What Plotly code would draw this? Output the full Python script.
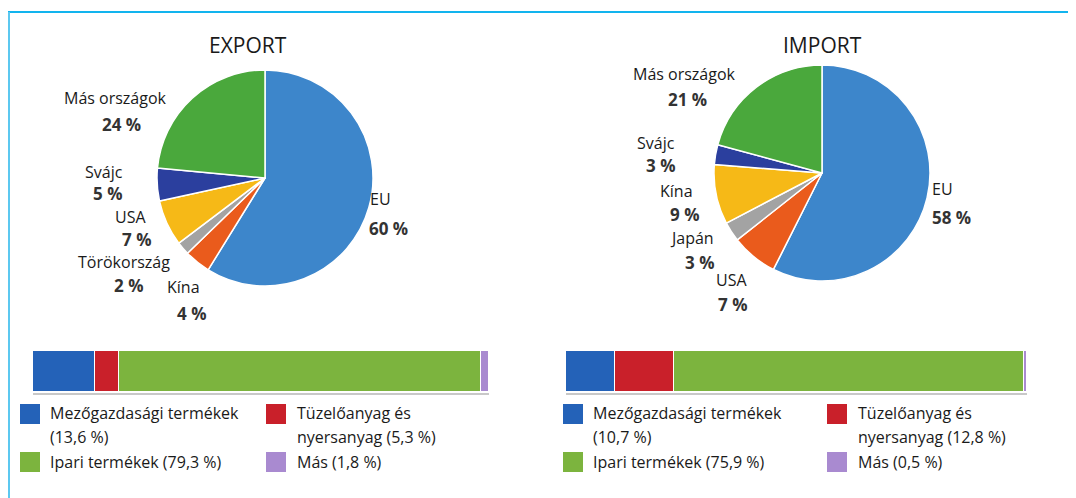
import plotly.graph_objects as go

# The page body has an 8px default margin, so the figure starts at (8, 8)
OFF = 8
W, H = 1068, 490

# ---------------- data ----------------
export_countries = ["EU", "Kína", "Törökország", "USA", "Svájc", "Más országok"]
export_shares = [60, 4, 2, 7, 5, 24]
import_countries = ["EU", "USA", "Japán", "Kína", "Svájc", "Más országok"]
import_shares = [58, 7, 3, 9, 3, 21]
pie_colors = ["#3d86cb", "#ea5b1c", "#a3a3a3", "#f6b917", "#2b3f9e", "#4aa83c"]

product_groups = ["Mezőgazdasági termékek", "Tüzelőanyag és nyersanyag", "Ipari termékek", "Más"]
export_products = [13.6, 5.3, 79.3, 1.8]
import_products = [10.7, 12.8, 75.9, 0.5]
bar_colors = ["#2462b8", "#c9202a", "#7cb43e", "#a98ad0"]

FONT = "Open Sans"


def px(x):
    return (x - OFF) / W


def py(y):
    return 1 - (y - OFF) / H


def fmt(v):
    return f"{v}".replace(".", ",") + " %"


fig = go.Figure()

# ---------------- pies ----------------
def add_pie(labels, values, cx, cy, r):
    fig.add_trace(go.Pie(
        labels=labels, values=values, sort=False, direction="clockwise", rotation=0,
        marker=dict(colors=pie_colors, line=dict(color="white", width=1.5)),
        textinfo="none", hoverinfo="label+value", showlegend=False,
        domain=dict(x=[px(cx - r), px(cx + r)], y=[py(cy + r), py(cy - r)]),
    ))

add_pie(export_countries, export_shares, 265, 178, 108)
add_pie(import_countries, import_shares, 822, 173, 108)

# ---------------- bars ----------------
def add_bar(values, xaxis, yaxis):
    for name, v, c in zip(product_groups, values, bar_colors):
        fig.add_trace(go.Bar(
            x=[v], y=[0], orientation="h", name=name,
            marker=dict(color=c, line=dict(color="white", width=1)),
            xaxis=xaxis, yaxis=yaxis, showlegend=False, width=1,
        ))

add_bar(export_products, "x", "y")
add_bar(import_products, "x2", "y2")

ax = dict(range=[0, 100], visible=False, fixedrange=True)
ay = dict(range=[-0.5, 0.5], visible=False, fixedrange=True)
fig.update_layout(
    barmode="stack", bargap=0,
    xaxis=dict(domain=[px(33), px(489)], anchor="y", **ax),
    yaxis=dict(domain=[py(392), py(351)], anchor="x", **ay),
    xaxis2=dict(domain=[px(566), px(1027)], anchor="y2", **ax),
    yaxis2=dict(domain=[py(392), py(351)], anchor="x2", **ay),
)

# ---------------- annotations ----------------
ann = []


def text(x, y, s, size=16, color="#1a1a1a", bold=False, xanchor="center"):
    ann.append(dict(
        x=px(x), y=py(y), xref="paper", yref="paper", showarrow=False,
        text=f"<b>{s}</b>" if bold else s, xanchor=xanchor, yanchor="middle",
        font=dict(family=FONT, size=size, color=color),
    ))

text(248, 45, "EXPORT", size=21)
text(822, 45, "IMPORT", size=21)

export_label_pos = {
    "EU": (380, 199, 388, 228),
    "Kína": (183, 287, 191, 313),
    "Törökország": (124, 262, 128, 285),
    "USA": (130, 217, 136, 239),
    "Svájc": (104, 172, 107, 193),
    "Más országok": (115, 98, 121, 125),
}
for name, v in zip(export_countries, export_shares):
    nx, ny, vx, vy = export_label_pos[name]
    text(nx, ny, name)
    text(vx, vy, f"{v} %", size=17, color="#333333", bold=True)

import_label_pos = {
    "EU": (942, 189, 951, 217),
    "USA": (731, 280, 732, 304),
    "Japán": (692, 238, 699, 262),
    "Kína": (676, 191, 684, 215),
    "Svájc": (656, 143, 660, 165),
    "Más országok": (684, 74, 687, 99),
}
for name, v in zip(import_countries, import_shares):
    nx, ny, vx, vy = import_label_pos[name]
    text(nx, ny, name)
    text(vx, vy, f"{v} %", size=17, color="#333333", bold=True)

# ---------------- custom legends ----------------
shapes = []


def legend(vals, x_left, x_right):
    items = [
        (x_left, 404, bar_colors[0]),
        (x_right, 404, bar_colors[1]),
        (x_left, 452, bar_colors[2]),
        (x_right, 452, bar_colors[3]),
    ]
    for x0, y0, c in items:
        shapes.append(dict(type="rect", xref="paper", yref="paper",
                           x0=px(x0), x1=px(x0 + 20), y0=py(y0 + 20), y1=py(y0),
                           fillcolor=c, line=dict(width=0)))
    tl, tr = x_left + 28, x_right + 29
    text(tl, 413, "Mezőgazdasági termékek", xanchor="left")
    text(tl, 437, f"({fmt(vals[0])})", xanchor="left")
    text(tr, 413, "Tüzelőanyag és", xanchor="left")
    text(tr, 437, f"nyersanyag ({fmt(vals[1])})", xanchor="left")
    text(tl, 462, f"Ipari termékek ({fmt(vals[2])})", xanchor="left")
    text(tr, 462, f"Más ({fmt(vals[3])})", xanchor="left")

legend(export_products, 20, 266)
legend(import_products, 563, 827)

# bar shadow lines
for x0, x1 in [(33, 489), (566, 1027)]:
    shapes.append(dict(type="line", xref="paper", yref="paper",
                       x0=px(x0), x1=px(x1), y0=py(394), y1=py(394),
                       line=dict(color="#c8c8c8", width=2)))

# frame lines
shapes.append(dict(type="line", xref="paper", yref="paper",
                   x0=px(8), x1=1, y0=py(12), y1=py(12),
                   line=dict(color="#12b4ee", width=2)))
shapes.append(dict(type="line", xref="paper", yref="paper",
                   x0=px(9), x1=px(9), y0=py(12), y1=0,
                   line=dict(color="#5cc8f0", width=2)))

fig.update_layout(
    width=W, height=H, margin=dict(l=0, r=0, t=0, b=0),
    paper_bgcolor="white", plot_bgcolor="white",
    annotations=ann, shapes=shapes,
    font=dict(family=FONT),
)

fig.write_html("out.html")
